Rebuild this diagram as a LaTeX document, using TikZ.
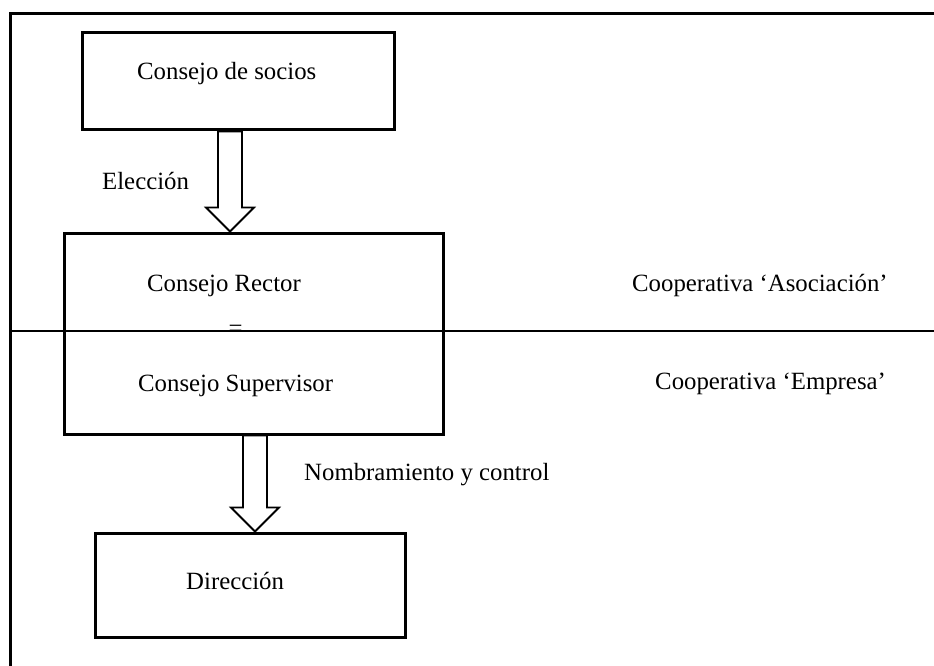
\documentclass[tikz,border=0pt]{standalone}
\usepackage{fontspec}
\setmainfont{Liberation Serif}
\usetikzlibrary{calc}

% hollow block arrow from tail coordinate #1 down to tip coordinate #2
\newcommand\blockarrow[2]{%
  \draw[arrowline]
    ($(#1)+(-12,0)$) -- ($(#2)+(-12,-24)$) -- ($(#2)+(-24,-24)$) -- (#2)
    -- ($(#2)+(24,-24)$) -- ($(#2)+(12,-24)$) -- ($(#1)+(12,0)$) -- cycle;}

\begin{document}
\begin{tikzpicture}[x=1pt,y=-1pt,
  box/.style={draw, line width=3pt, inner sep=0pt},
  frameline/.style={line width=3pt},
  arrowline/.style={draw, fill=white, line width=1.8pt, line join=miter},
  divider/.style={line width=1.2pt},
  lbl/.style={font=\fontsize{24.8}{30}\selectfont, inner sep=0pt, anchor=mid west},
  eq/.style={font=\fontsize{24.8}{30}\selectfont, inner sep=0pt}]

\useasboundingbox (0,0) rectangle (934,666);

% outer frame (open towards right and bottom)
\draw[frameline] (10,680) -- (10,14) -- (950,14);

% level divider
\draw[divider] (10,331) -- (950,331);

% boxes
\node[box, minimum width=312, minimum height=97]  (b1) at (238,81.5) {};
\node[box, minimum width=379, minimum height=201] (b2) at (253.5,333.5) {};
\node[box, minimum width=310, minimum height=104] (b3) at (250,585) {};

% texts
\node[lbl] (t-socios)   at (137,77)  {Consejo de socios};
\node[lbl] (t-eleccion) at (102,187) {Elección};
\node[lbl] (t-rector)   at (147,289) {Consejo Rector};
\node[eq]  (t-igual)    at (235.5,331) {=};
\node[lbl] (t-superv)   at (138,389) {Consejo Supervisor};
\node[lbl] (t-asoc)     at (632,289) {Cooperativa ‘Asociación’};
\node[lbl] (t-empresa)  at (655,387) {Cooperativa ‘Empresa’};
\node[lbl] (t-nombra)   at (304,478) {Nombramiento y control};
\node[lbl] (t-direc)    at (186,587) {Dirección};

% block arrows
\coordinate (a1) at ($(b1.south)+(-8,0)$);
\coordinate (a1tip) at (a1 |- b2.north);
\blockarrow{a1}{a1tip}

\coordinate (a2) at ($(b2.south)+(1.5,0)$);
\coordinate (a2tip) at (a2 |- b3.north);
\blockarrow{a2}{a2tip}

\end{tikzpicture}
\end{document}
